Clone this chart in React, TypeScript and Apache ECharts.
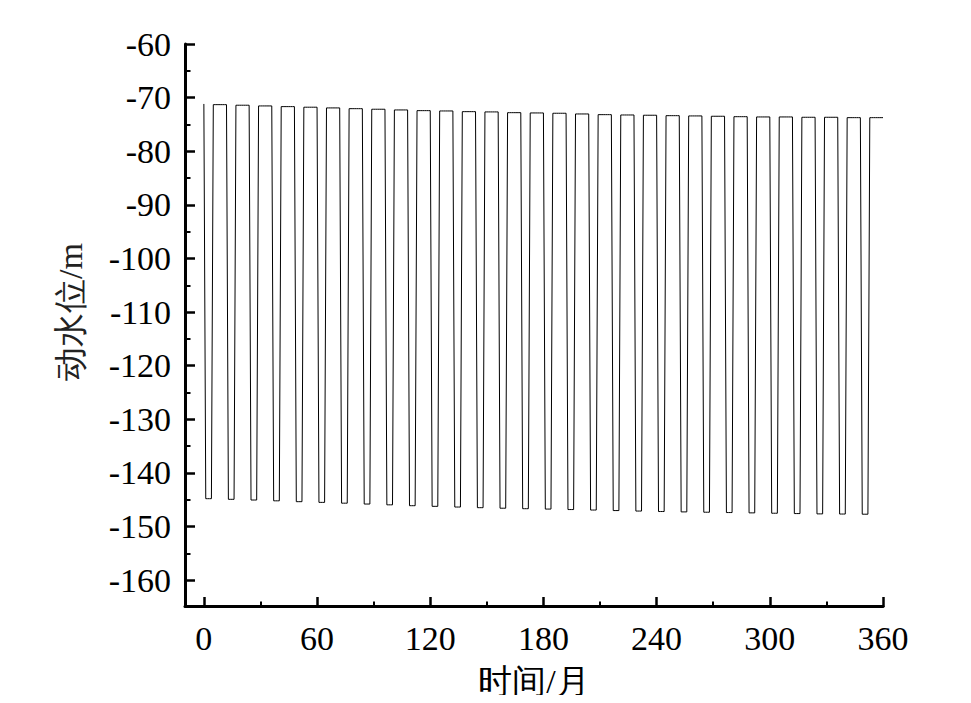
import React, { useEffect, useRef } from "react";
import * as echarts from "echarts";

// Monthly dynamic water level (m); each year: 4 months pumping (low), 8 months recovery (high)
const startLevel = -71.2;
const highLevels = [
  -71.33, -71.44, -71.57, -71.7, -71.81, -71.94, -72.08, -72.19, -72.32, -72.45,
  -72.51, -72.64, -72.69, -72.83, -72.88, -72.94, -73.07, -73.2, -73.26, -73.31,
  -73.39, -73.44, -73.5, -73.58, -73.63, -73.63, -73.69, -73.69, -73.76, -73.76,
];
const lowLevels = [
  -144.95, -145.07, -145.2, -145.35, -145.51, -145.64, -145.79, -145.95, -146.1, -146.26,
  -146.38, -146.51, -146.63, -146.73, -146.82, -146.89, -146.98, -147.07, -147.17, -147.26,
  -147.35, -147.42, -147.48, -147.54, -147.6, -147.67, -147.73, -147.79, -147.82, -147.85,
];
const lowMonths = 4;
const highMonths = 8;
const xTickLabels = ["0", "60", "120", "180", "240", "300", "360"];
const yTickLabels = ["-160", "-150", "-140", "-130", "-120", "-110", "-100", "-90", "-80", "-70", "-60"];

const FONT = "Liberation Serif";

export default function App() {
  const ref = useRef<HTMLDivElement>(null);
  useEffect(() => {
    if (!ref.current) return;
    const chart = echarts.init(ref.current, undefined, { renderer: "svg" });
    const data: [number, number][] = [[0, startLevel]];
    let t = 0;
    for (let k = 0; k < highLevels.length; k++) {
      for (let i = 0; i < lowMonths; i++) data.push([++t, lowLevels[k]]);
      for (let i = 0; i < highMonths; i++) data.push([++t, highLevels[k]]);
    }
    const xMin = Number(xTickLabels[0]);
    const xMax = Number(xTickLabels[xTickLabels.length - 1]);
    const yMin = Number(yTickLabels[0]);
    const yMax = Number(yTickLabels[yTickLabels.length - 1]);
    const left = 185, right = 88, top = 44, bottom = 96;
    const plotW = 971 - left - right;
    const plotH = 703 - top - bottom;
    const xLow = -10, yLow = -165;
    const pxPerX = plotW / (xMax - xLow);
    const pxPerY = plotH / (yMax - yLow);
    const axisLine = { show: true, onZero: false, lineStyle: { color: "#000", width: 3 } };
    const majorTick = { show: true, inside: true, length: 10, lineStyle: { color: "#000", width: 2.5 } };
    const minorTick = { show: true, splitNumber: 2, length: 5.5, lineStyle: { color: "#000", width: 2 } };
    chart.setOption({
      animation: false,
      grid: [
        { left, right, top, bottom },
        { left: left + (xMin - xLow) * pxPerX, right, top, bottom },
        { left, right, top, bottom: bottom + (yMin - yLow) * pxPerY },
      ],
      xAxis: [
        {
          gridIndex: 0, type: "value", min: xLow, max: xMax,
          axisLine, axisTick: { show: false }, axisLabel: { show: false }, splitLine: { show: false },
          name: "时间/月", nameLocation: "middle", nameGap: 58,
          nameTextStyle: { color: "#000", fontSize: 34, fontFamily: FONT },
        },
        {
          gridIndex: 1, type: "value", min: xMin, max: xMax, interval: 60,
          axisLine: { show: false, onZero: false },
          axisTick: majorTick,
          minorTick,
          axisLabel: { show: true, margin: 14, color: "#000", fontSize: 34, fontFamily: FONT },
          splitLine: { show: false },
        },
        { gridIndex: 2, type: "value", show: false, min: 0, max: 1 },
      ],
      yAxis: [
        {
          gridIndex: 0, type: "value", min: yLow, max: yMax,
          axisLine, axisTick: { show: false }, axisLabel: { show: false }, splitLine: { show: false },
        },
        { gridIndex: 1, type: "value", show: false, min: 0, max: 1 },
        {
          gridIndex: 2, type: "value", min: yMin, max: yMax, interval: 10,
          axisLine: { show: false, onZero: false },
          axisTick: majorTick,
          minorTick,
          axisLabel: { show: true, margin: 14, color: "#000", fontSize: 34, fontFamily: FONT },
          splitLine: { show: false },
          name: "动水位/m", nameLocation: "middle", nameGap: 98,
          nameTextStyle: { color: "#222", fontSize: 34, fontFamily: FONT },
        },
      ],
      series: [
        {
          type: "line", xAxisIndex: 0, yAxisIndex: 0, data,
          showSymbol: false, symbol: "none",
          lineStyle: { color: "#000", width: 1 },
        },
      ],
    });
    return () => chart.dispose();
  }, []);
  return <div ref={ref} style={{ width: 971, height: 703, margin: -8 }} />;
}
